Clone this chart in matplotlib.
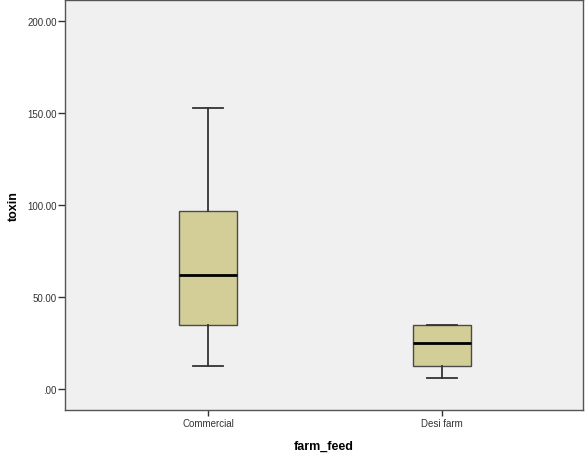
import matplotlib.pyplot as plt

plt.rcParams['font.family'] = ['Liberation Sans', 'DejaVu Sans']

# summary values per feed group
groups = ['Commercial', 'Desi farm']
whis_lo = [12.5, 5.8]
q1 = [34.9, 12.7]
med = [61.8, 25.0]
q3 = [96.5, 35.0]
whis_hi = [152.7, 35.0]

yticks = [0, 50, 100, 150, 200]
ytick_labels = ['.00', '50.00', '100.00', '150.00', '200.00']

stats = []
for i, g in enumerate(groups):
    stats.append(dict(label=g, whislo=whis_lo[i], q1=q1[i], med=med[i],
                      q3=q3[i], whishi=whis_hi[i], fliers=[]))

fig = plt.figure(figsize=(5.85, 4.56), dpi=100)
ax = fig.add_axes([0.111, 0.0987, 0.8856, 0.8993])
ax.set_facecolor('#f0f0f0')

ax.bxp(stats, positions=[1, 2], widths=0.25, patch_artist=True,
       showfliers=False,
       boxprops=dict(facecolor='#d3ce97', edgecolor='#4a4a4a', linewidth=1.0),
       medianprops=dict(color='black', linewidth=2.0),
       whiskerprops=dict(color='#333333', linewidth=1.3),
       capprops=dict(color='#333333', linewidth=1.3),
       capwidths=0.126)

ax.set_xlim(0.389, 2.603)
ax.set_ylim(-11.4, 211.4)
ax.set_yticks(yticks)
ax.set_yticklabels(ytick_labels)
ax.set_xticks([1, 2])
ax.set_xticklabels(groups)
ax.tick_params(axis='both', labelsize=7, colors='#333333', direction='out')
ax.tick_params(axis='y', length=5, width=1, pad=1)
ax.tick_params(axis='x', length=4, width=1, pad=2)

for s in ax.spines.values():
    s.set_color('#555555')
    s.set_linewidth(1.0)

ax.set_ylabel('toxin', fontsize=9, fontweight='bold', labelpad=5)
ax.set_xlabel('farm_feed', fontsize=9, fontweight='bold', labelpad=8)

fig.savefig('out.png', dpi=100)
